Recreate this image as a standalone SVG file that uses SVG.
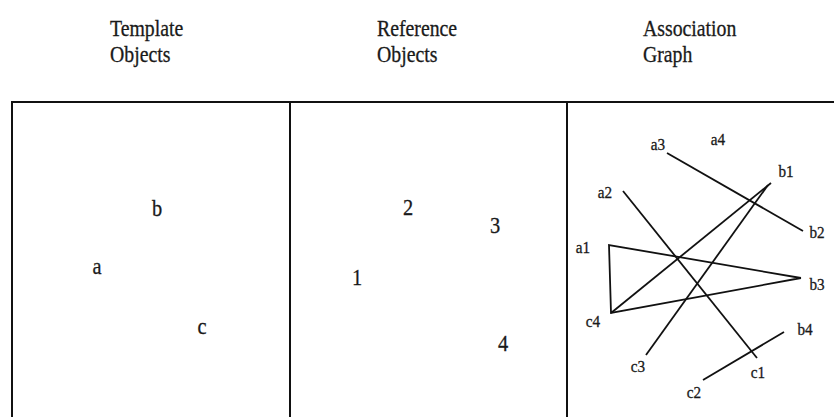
<svg xmlns="http://www.w3.org/2000/svg" width="834" height="417" viewBox="0 0 834 417">
<style>
text{font-family:"Liberation Serif","Times New Roman",serif;fill:#1a1a1a;stroke:#1a1a1a;stroke-width:0.3}
.hd{font-size:23px;transform-box:fill-box;transform-origin:left center;transform:scaleX(0.86)}
.ob{font-size:24px;text-anchor:middle;transform-box:fill-box;transform-origin:center;transform:scaleX(0.85)}
.gl{font-size:16px;text-anchor:middle;transform-box:fill-box;transform-origin:center;transform:scaleX(0.95)}
.fr{stroke:#111;stroke-width:2;fill:none}
.ed{stroke:#111;stroke-width:1.8;fill:none}
</style>
<rect width="834" height="417" fill="#fff"/>
<g id="headers">
<text class="hd" x="110" y="36">Template</text>
<text class="hd" x="110" y="62">Objects</text>
<text class="hd" x="377" y="36">Reference</text>
<text class="hd" x="377" y="62">Objects</text>
<text class="hd" x="643" y="36">Association</text>
<text class="hd" x="643" y="62">Graph</text>
</g>
<g id="frame" class="fr">
<line x1="11" y1="102" x2="834" y2="102"/>
<line x1="12" y1="101" x2="12" y2="417"/>
<line x1="290" y1="101" x2="290" y2="417"/>
<line x1="567" y1="101" x2="567" y2="417"/>
</g>
<g id="template-objects">
<text class="ob" x="157" y="216">b</text>
<text class="ob" x="97" y="274">a</text>
<text class="ob" x="202" y="334">c</text>
</g>
<g id="reference-objects">
<text class="ob" x="408" y="215">2</text>
<text class="ob" x="495" y="233">3</text>
<text class="ob" x="357" y="285">1</text>
<text class="ob" x="503" y="351">4</text>
</g>
<g id="connectors" class="ed">
<line x1="667" y1="153" x2="803" y2="231"/>
<line x1="623" y1="191" x2="757" y2="358"/>
<line x1="771" y1="183" x2="611" y2="313"/>
<line x1="768" y1="185" x2="646" y2="355"/>
<polyline points="801,278 609,245 611,313 801,278"/>
<line x1="703" y1="380" x2="784" y2="332"/>
</g>
<g id="graph-nodes">
<text class="gl" x="658" y="150">a3</text>
<text class="gl" x="718" y="145">a4</text>
<text class="gl" x="786" y="177">b1</text>
<text class="gl" x="605" y="198">a2</text>
<text class="gl" x="817" y="238">b2</text>
<text class="gl" x="583" y="253">a1</text>
<text class="gl" x="817" y="290">b3</text>
<text class="gl" x="593" y="327">c4</text>
<text class="gl" x="805" y="335">b4</text>
<text class="gl" x="638" y="372">c3</text>
<text class="gl" x="758" y="378">c1</text>
<text class="gl" x="694" y="398">c2</text>
</g>
</svg>
